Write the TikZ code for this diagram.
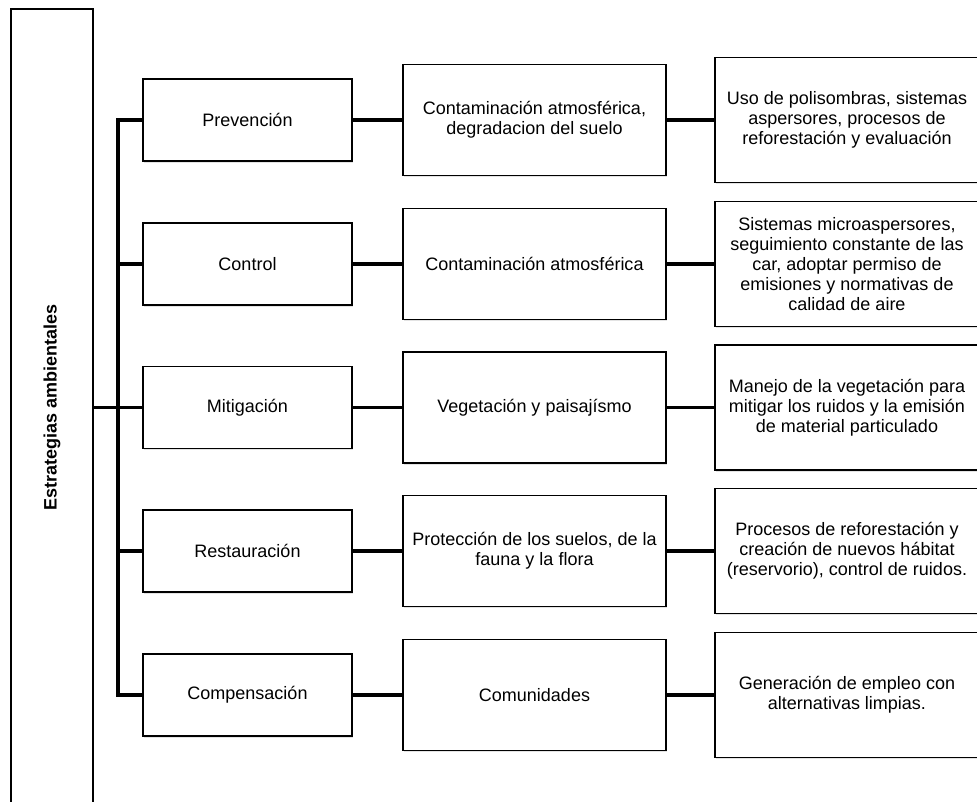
\documentclass[tikz,border=0pt]{standalone}
\usepackage{fontspec}
\setmainfont{Liberation Sans}
\usetikzlibrary{shadows}
\begin{document}
\begin{tikzpicture}[x=1pt,y=-1pt,
  box/.style={draw=black, line width=1.1pt, fill=white,
    drop shadow={shadow xshift=0.8pt, shadow yshift=-1.6pt, opacity=0.22},
    align=center, inner sep=0pt, font=\fontsize{18}{20}\selectfont},
  boxa/.style={box, minimum width=209pt, minimum height=82pt},
  boxb/.style={box, minimum width=263pt, minimum height=111pt},
  boxc/.style={box, minimum width=264pt, minimum height=125pt},
  link/.style={line width=3.3pt}]
\useasboundingbox (0,0) rectangle (977,802);
\clip (0,0) rectangle (977,802);
\fill[white] (0,0) rectangle (977,802);

\node[box, minimum width=82pt, minimum height=797pt] (root) at (52,407.5) {};
\node[rotate=90, font=\bfseries\fontsize{18}{20}\selectfont] (roottxt) at (52,407.5) {Estrategias ambientales};

\coordinate (sp) at (118,0);

\node[boxa] (c1) at (247.5,120) {Prevención};
\node[boxa] (c2) at (247.5,264) {Control};
\node[boxa] (c3) at (247.5,407.5) {Mitigación};
\node[boxa] (c4) at (247.5,551) {Restauración};
\node[boxa] (c5) at (247.5,695) {Compensación};

\node[boxb] (m1) at (534.5,120) {Contaminación atmosférica,\\degradacion del suelo};
\node[boxb] (m2) at (534.5,264) {Contaminación atmosférica};
\node[boxb] (m3) at (534.5,407.5) {Vegetación y paisajísmo};
\node[boxb] (m4) at (534.5,551) {Protección de los suelos, de la\\fauna y la flora};
\node[boxb] (m5) at (534.5,695) {Comunidades};

\node[boxc] (r1) at (847,120) {Uso de polisombras, sistemas\\aspersores, procesos de\\reforestación y evaluación};
\node[boxc] (r2) at (847,264) {Sistemas microaspersores,\\seguimiento constante de las\\car, adoptar permiso de\\emisiones y normativas de\\calidad de aire};
\node[boxc] (r3) at (847,407.5) {Manejo de la vegetación para\\mitigar los ruidos y la emisión\\de material particulado};
\node[boxc] (r4) at (847,551) {Procesos de reforestación y\\creación de nuevos hábitat\\(reservorio), control de ruidos.};
\node[boxc] (r5) at (847,695) {Generación de empleo con\\alternativas limpias.};

\draw[link, line join=miter] (c1.west) -- (c1.west -| sp) -- (c5.west -| sp) -- (c5.west);
\foreach \i in {2,3,4} \draw[link] (c\i.west) -- (c\i.west -| sp);
\draw[link] (root.east) -- (root.east -| sp);

\foreach \i in {1,...,5} {
  \draw[link] (c\i.east) -- (m\i.west);
  \draw[link] (m\i.east) -- (r\i.west);
}
\end{tikzpicture}
\end{document}
